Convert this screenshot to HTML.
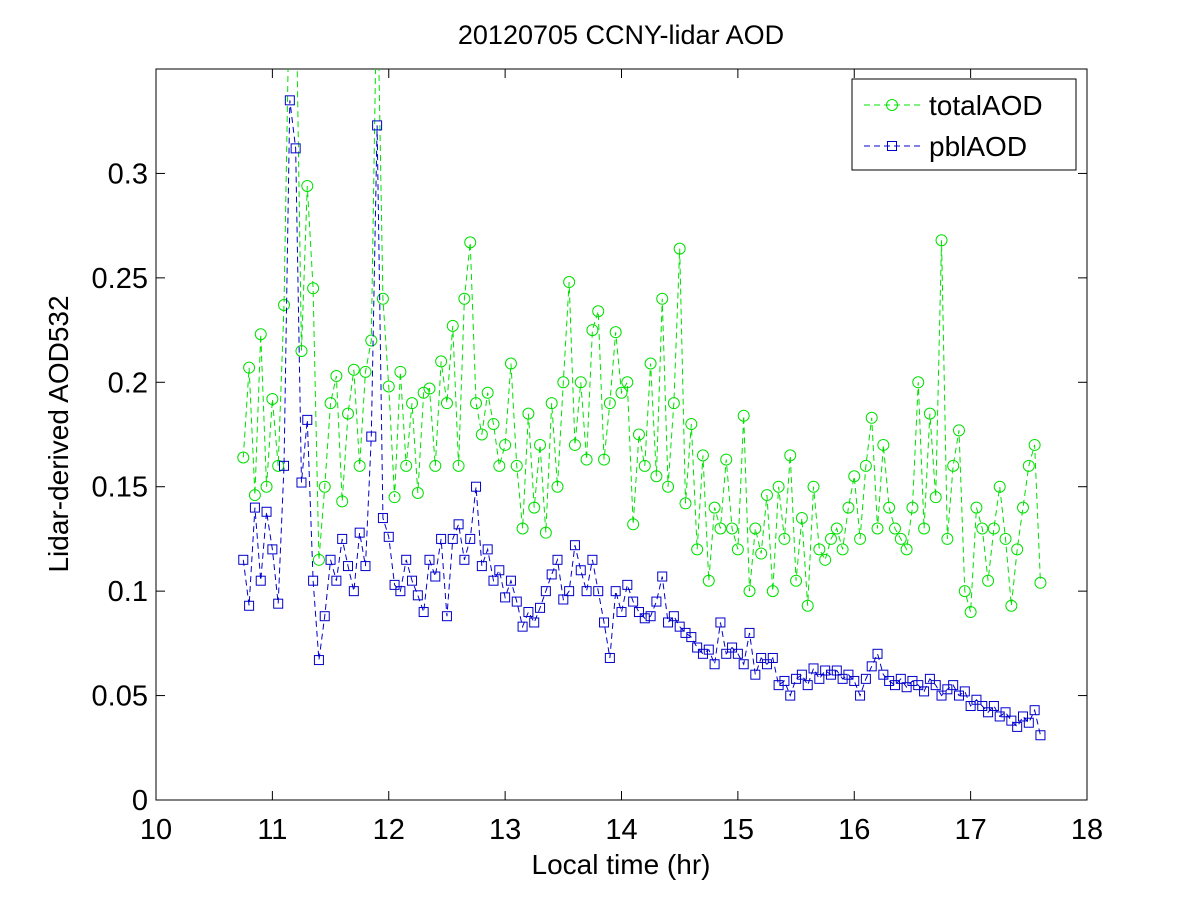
<!DOCTYPE html>
<html><head><meta charset="utf-8"><style>
body{margin:0;background:#fff}
svg{display:block;font-family:"Liberation Sans",sans-serif}
</style></head><body>
<svg id="c" width="1200" height="900"></svg>
<script>
const times=[
10.75,10.80,10.85,10.90,10.95,
11.00,11.05,11.10,11.15,11.20,11.25,11.30,11.35,11.40,11.45,11.50,11.55,11.60,11.65,11.70,11.75,11.80,11.85,11.90,11.95,
12.00,12.05,12.10,12.15,12.20,12.25,12.30,12.35,12.40,12.45,12.50,12.55,12.60,12.65,12.70,12.75,12.80,12.85,12.90,12.95,
13.00,13.05,13.10,13.15,13.20,13.25,13.30,13.35,13.40,13.45,13.50,13.55,13.60,13.65,13.70,13.75,13.80,13.85,13.90,13.95,
14.00,14.05,14.10,14.15,14.20,14.25,14.30,14.35,14.40,14.45,14.50,14.55,14.60,14.65,14.70,14.75,14.80,14.85,14.90,14.95,
15.00,15.05,15.10,15.15,15.20,15.25,15.30,15.35,15.40,15.45,15.50,15.55,15.60,15.65,15.70,15.75,15.80,15.85,15.90,15.95,
16.00,16.05,16.10,16.15,16.20,16.25,16.30,16.35,16.40,16.45,16.50,16.55,16.60,16.65,16.70,16.75,16.80,16.85,16.90,16.95,
17.00,17.05,17.10,17.15,17.20,17.25,17.30,17.35,17.40,17.45,17.50,17.55,17.60];
const totalAOD=[
.164,.207,.146,.223,.150,
.192,.160,.237,.40,.40,.215,.294,.245,.115,.150,.190,.203,.143,.185,.206,.160,.205,.220,.40,.240,
.198,.145,.205,.160,.190,.147,.195,.197,.160,.210,.190,.227,.160,.240,.267,.190,.175,.195,.180,.160,
.170,.209,.160,.130,.185,.140,.170,.128,.190,.150,.200,.248,.170,.200,.163,.225,.234,.163,.190,.224,
.195,.200,.132,.175,.160,.209,.155,.240,.150,.190,.264,.142,.180,.120,.165,.105,.140,.130,.163,.130,
.120,.184,.100,.130,.118,.146,.100,.150,.125,.165,.105,.135,.093,.150,.120,.115,.125,.130,.120,.140,
.155,.125,.160,.183,.130,.170,.140,.130,.125,.120,.140,.200,.130,.185,.145,.268,.125,.160,.177,.100,
.090,.140,.130,.105,.130,.150,.125,.093,.120,.140,.160,.170,.104];
const pblAOD=[
.115,.093,.140,.105,.138,
.120,.094,.160,.335,.312,.152,.182,.105,.067,.088,.115,.105,.125,.112,.100,.128,.112,.174,.323,.135,
.126,.103,.100,.115,.105,.098,.090,.115,.107,.125,.088,.125,.132,.115,.125,.150,.112,.120,.105,.110,
.097,.105,.095,.083,.090,.085,.092,.100,.108,.115,.096,.100,.122,.110,.100,.115,.100,.085,.068,.100,
.090,.103,.095,.090,.087,.088,.095,.107,.085,.088,.083,.080,.078,.073,.070,.072,.065,.085,.070,.073,
.070,.065,.080,.060,.068,.065,.068,.055,.057,.050,.058,.060,.055,.063,.058,.062,.060,.062,.058,.060,
.057,.050,.058,.064,.070,.060,.057,.055,.058,.054,.057,.055,.052,.058,.055,.050,.053,.055,.050,.052,
.045,.048,.045,.042,.045,.040,.042,.038,.035,.040,.037,.043,.031];
const xTicks=[10,11,12,13,14,15,16,17,18];
const yTicks=[0,0.05,0.1,0.15,0.2,0.25,0.3];
const yTickLabels=["0","0.05","0.1","0.15","0.2","0.25","0.3"];

const L=156,R=1087,T=69,B=800,XMIN=10,XMAX=18,YMIN=0,YMAX=0.35;
const sx=v=>L+(v-XMIN)/(XMAX-XMIN)*(R-L);
const sy=v=>B-(v-YMIN)/(YMAX-YMIN)*(B-T);
const svg=document.getElementById('c');
const NS='http://www.w3.org/2000/svg';
function mk(tag,at,parent){const e=document.createElementNS(NS,tag);for(const k in at)e.setAttribute(k,at[k]);(parent||svg).appendChild(e);return e;}

const defs=mk('defs',{});
const cp=mk('clipPath',{id:'pc'},defs);
mk('rect',{x:L,y:T,width:R-L,height:B-T},cp);

const bg=mk('rect',{x:L,y:T,width:R-L,height:B-T,fill:'#fff',stroke:'#000','stroke-width':1});



xTicks.forEach(v=>{
 const x=sx(v);
 mk('line',{x1:x,y1:B,x2:x,y2:B-9,stroke:'#000'});
 mk('line',{x1:x,y1:T,x2:x,y2:T+9,stroke:'#000'});
 const t=mk('text',{x:x,y:B+39,'text-anchor':'middle','font-size':29});
 t.textContent=v;
 
 
});
yTicks.forEach((v,i)=>{
 const y=sy(v);
 mk('line',{x1:L,y1:y,x2:L+9,y2:y,stroke:'#000'});
 mk('line',{x1:R,y1:y,x2:R-9,y2:y,stroke:'#000'});
 const t=mk('text',{x:L-8,y:y+10,'text-anchor':'end','font-size':29});
 t.textContent=yTickLabels[i];
 
 
});

function series(vals,color,shape,name){
 const g=mk('g',{'clip-path':'url(#pc)'});
 
 
 const pts=times.map((t,i)=>sx(t)+','+sy(vals[i])).join(' ');
 mk('polyline',{points:pts,fill:'none',stroke:color,'stroke-width':1,'stroke-dasharray':'6,4'},g);
 times.forEach((t,i)=>{
  const x=sx(t),y=sy(vals[i]);
  let m;
  if(shape==='circle') m=mk('circle',{cx:x,cy:y,r:5.5,fill:'none',stroke:color,'stroke-width':1},g);
  else m=mk('rect',{x:x-4.5,y:y-4.5,width:9,height:9,fill:'none',stroke:color,'stroke-width':1},g);
  
  
 });
}
series(totalAOD,'#00e000','circle','total-aod-series');
series(pblAOD,'#0000cc','square','pbl-aod-series');

const title=mk('text',{x:621,y:44,'text-anchor':'middle','font-size':27});
title.textContent='20120705 CCNY-lidar AOD';


const xl=mk('text',{x:621,y:874,'text-anchor':'middle','font-size':28});
xl.textContent='Local time (hr)';


const yl=mk('text',{x:0,y:0,'text-anchor':'middle','font-size':28,transform:'translate(68,434) rotate(-90)'});
yl.textContent='Lidar-derived AOD532';



const lg=mk('g',{});


mk('rect',{x:852,y:79,width:224,height:91,fill:'#fff',stroke:'#000'},lg);
const e1=mk('g',{},lg);


mk('line',{x1:864,y1:105,x2:920,y2:105,stroke:'#00e000','stroke-dasharray':'6,4'},e1);
mk('circle',{cx:892,cy:105,r:5.5,fill:'none',stroke:'#00e000'},e1);
const t1=mk('text',{x:929,y:115,'font-size':28},e1);t1.textContent='totalAOD';
const e2=mk('g',{},lg);


mk('line',{x1:864,y1:146,x2:920,y2:146,stroke:'#0000cc','stroke-dasharray':'6,4'},e2);
mk('rect',{x:887.5,y:141.5,width:9,height:9,fill:'none',stroke:'#0000cc'},e2);
const t2=mk('text',{x:929,y:156,'font-size':28},e2);t2.textContent='pblAOD';
</script>
</body></html>
